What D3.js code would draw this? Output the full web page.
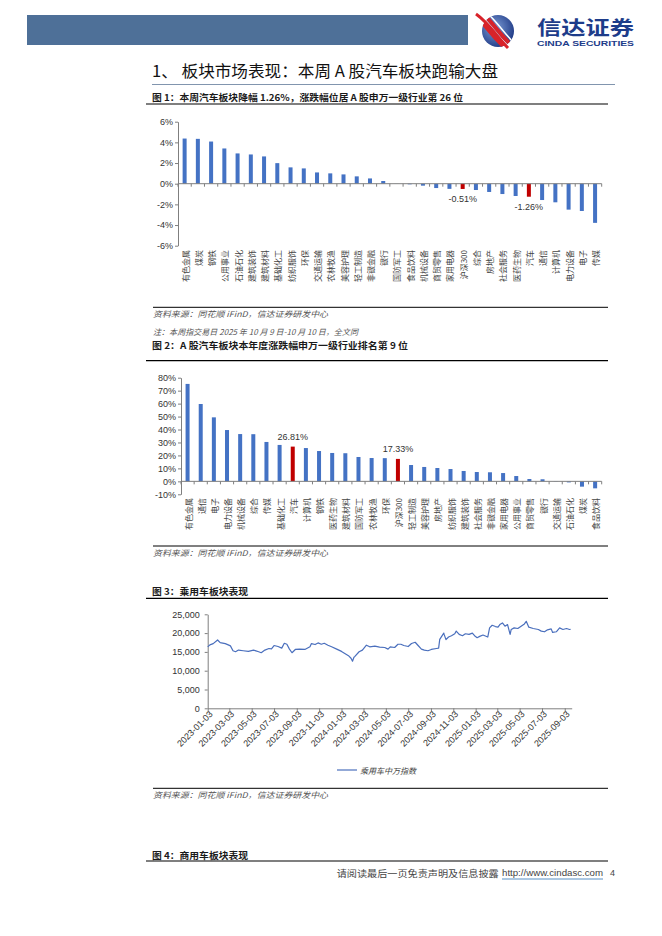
<!DOCTYPE html>
<html><head><meta charset="utf-8">
<script src="https://cdn.jsdelivr.net/npm/d3@7/dist/d3.min.js"></script>
<style>body{margin:0;background:#fff}svg{display:block}</style>
</head><body><svg id="c" width="662" height="936"></svg>
<script>
// ---------- DATA ----------
const cats1 = ["有色金属","煤炭","钢铁","公用事业","石油石化","建筑装饰","建筑材料","基础化工","纺织服饰","环保","交通运输","农林牧渔","美容护理","轻工制造","非银金融","银行","国防军工","食品饮料","机械设备","商贸零售","家用电器","沪深300","综合","房地产","社会服务","医药生物","汽车","通信","计算机","电力设备","电子","传媒"];
const vals1 = [4.37,4.34,4.08,3.41,2.93,2.83,2.64,1.99,1.58,1.48,1.09,1.00,0.90,0.71,0.51,0.26,0.01,-0.06,-0.19,-0.42,-0.50,-0.51,-0.61,-0.80,-1.00,-1.19,-1.26,-1.58,-1.80,-2.51,-2.64,-3.79];
const highlight = ["沪深300","汽车"];
const ticks1 = [-6,-4,-2,0,2,4,6];

const cats2 = ["有色金属","通信","电子","电力设备","机械设备","综合","传媒","基础化工","汽车","计算机","钢铁","医药生物","建筑材料","国防军工","农林牧渔","环保","沪深300","轻工制造","美容护理","房地产","纺织服饰","建筑装饰","社会服务","非银金融","家用电器","公用事业","商贸零售","银行","交通运输","石油石化","煤炭","食品饮料"];
const vals2 = [75.2,59.7,49.4,39.6,36.5,36.4,30.4,28.1,26.81,25.7,23.4,21.9,21.7,18.8,18.0,17.9,17.33,12.6,11.1,10.3,9.5,8.0,7.2,7.0,6.4,4.1,1.8,1.6,-0.2,-0.8,-4.1,-5.4];
const ticks2 = [-10,0,10,20,30,40,50,60,70,80];

const lineDates = ["2023-01-03","2023-01-09","2023-01-18","2023-01-30","2023-02-06","2023-02-20","2023-02-28","2023-03-06","2023-03-13","2023-03-20","2023-03-28","2023-04-10","2023-04-24","2023-05-08","2023-05-22","2023-05-29","2023-06-08","2023-06-19","2023-06-26","2023-07-03","2023-07-14","2023-07-24","2023-07-31","2023-08-07","2023-08-14","2023-08-21","2023-08-30","2023-09-11","2023-09-25","2023-10-09","2023-10-13","2023-10-23","2023-10-31","2023-11-09","2023-11-17","2023-11-27","2023-12-07","2023-12-21","2024-01-03","2024-01-12","2024-01-22","2024-01-29","2024-02-02","2024-02-06","2024-02-08","2024-02-20","2024-02-29","2024-03-11","2024-03-20","2024-04-03","2024-04-16","2024-04-30","2024-05-09","2024-05-15","2024-05-27","2024-06-05","2024-06-13","2024-06-21","2024-07-03","2024-07-12","2024-07-22","2024-07-30","2024-08-08","2024-08-16","2024-08-26","2024-09-04","2024-09-18","2024-09-24","2024-09-27","2024-10-08","2024-10-09","2024-10-14","2024-10-21","2024-10-29","2024-11-07","2024-11-11","2024-11-19","2024-11-28","2024-12-06","2024-12-16","2024-12-25","2024-12-31","2025-01-07","2025-01-14","2025-01-23","2025-02-05","2025-02-10","2025-02-17","2025-02-26","2025-03-05","2025-03-10","2025-03-17","2025-03-24","2025-03-31","2025-04-07","2025-04-10","2025-04-18","2025-04-28","2025-05-07","2025-05-16","2025-05-21","2025-05-28","2025-06-09","2025-06-23","2025-07-01","2025-07-10","2025-07-18","2025-07-28","2025-08-01","2025-08-11","2025-08-20","2025-08-29","2025-09-08","2025-09-16","2025-09-19"];
const lineVals = [16350,16870,17200,18170,17480,17200,16870,16600,15300,15040,15480,15300,15130,15480,15040,14780,15480,15910,15820,16700,16430,16000,17300,17040,15740,14780,15650,15740,15650,16350,17220,16960,17390,17040,17300,16780,16350,15740,15130,14600,13990,13300,12520,13560,13740,15040,15480,16780,16350,16520,16260,16170,15740,16350,16170,17040,17040,16700,16430,17220,17570,16700,15740,15480,15300,15650,15910,16000,18350,20000,19650,18260,18960,19300,19830,20520,19650,19300,19830,19650,20000,19300,18780,19130,19480,18960,21390,22090,21740,21570,22260,22700,21830,22260,19650,20960,21390,21220,21830,22430,23130,21570,21220,20960,20520,20350,20870,21130,20170,20350,21390,20960,21220,20960,21000];
const ticks3 = [0,5000,10000,15000,20000,25000];
const dateTicks = ["2023-01-03","2023-03-03","2023-05-03","2023-07-03","2023-09-03","2023-11-03","2024-01-03","2024-03-03","2024-05-03","2024-07-03","2024-09-03","2024-11-03","2025-01-03","2025-03-03","2025-05-03","2025-07-03","2025-09-03"];
const lineName = "乘用车中万指数";

// ---------- STYLE ----------
const CJK = "'Noto Sans CJK SC','Noto Sans',sans-serif";
const LAT = "'Liberation Sans',Arial,sans-serif";
const BLUE = "#4472C4", RED = "#C00000", AX = "#7f7f7f", TXT = "#333";
const svg = d3.select("#c");
svg.append("rect").attr("width",662).attr("height",936).attr("fill","#fff");

// ---------- HEADER ----------
svg.append("rect").attr("x",27).attr("y",15).attr("width",441).attr("height",30).attr("fill","#4e7098");
const defs = svg.append("defs");
const rg = defs.append("radialGradient").attr("id","lg").attr("cx","40%").attr("cy","40%").attr("r","65%");
rg.append("stop").attr("offset","0%").attr("stop-color","#7e9fd8");
rg.append("stop").attr("offset","100%").attr("stop-color","#1f3a86");
defs.append("clipPath").attr("id","lc").append("circle").attr("cx",498).attr("cy",31).attr("r",16);
svg.append("circle").attr("cx",498).attr("cy",31).attr("r",16).attr("fill","url(#lg)");
const lgG = svg.append("g").attr("clip-path","url(#lc)");
[[-6,"#d8232a",4],[-1,"#ffffff",2],[3,"#d8232a",4],[8,"#ffffff",1.5]].forEach(([o,c,w])=>{
  lgG.append("path").attr("d",`M${478+o},${12} C${492+o},${24} ${498+o},${38} ${516+o},${52}`)
    .attr("fill","none").attr("stroke",c).attr("stroke-width",w);
});
svg.append("path").attr("d","M476,14 C490,24 496,36 508,48").attr("fill","none").attr("stroke","#d8232a").attr("stroke-width",3);
svg.append("text").attr("x",537).attr("y",35).text("信达证券")
  .attr("font-family",CJK).attr("font-weight",700).attr("font-size",19).attr("fill","#1d3c8a")
  .attr("textLength",97).attr("lengthAdjust","spacingAndGlyphs");
svg.append("text").attr("x",537).attr("y",45.5).text("CINDA SECURITIES")
  .attr("font-family",LAT).attr("font-weight",700).attr("font-size",7).attr("fill","#1d3c8a")
  .attr("textLength",97).attr("lengthAdjust","spacingAndGlyphs");

// ---------- TEXT HELPERS ----------
function txt(x,y,s,opt){
  const t = svg.append("text").attr("x",x).attr("y",y).text(s)
    .attr("dominant-baseline","central")
    .attr("font-family",opt.font||CJK).attr("font-size",opt.size||9)
    .attr("fill",opt.fill||TXT);
  if(opt.bold) t.attr("font-weight",700);
  if(opt.italic) t.attr("font-style","italic");
  if(opt.len) t.attr("textLength",opt.len).attr("lengthAdjust","spacingAndGlyphs");
  if(opt.anchor) t.attr("text-anchor",opt.anchor);
  return t;
}
function hline(x1,x2,y,c,w){
  svg.append("line").attr("x1",x1).attr("x2",x2).attr("y1",y).attr("y2",y).attr("stroke",c).attr("stroke-width",w);
}

// heading
txt(152,70,"1、 板块市场表现：本周 A 股汽车板块跑输大盘",{size:16,fill:"#111",len:346});
hline(152,615,84.5,"#8195ae",1);

// figure titles & sources
txt(152,97.7,"图 1：本周汽车板块降幅 1.26%，涨跌幅位居 A 股申万一级行业第 26 位",{size:9,bold:true,fill:"#1a1a1a",len:311});
hline(146,608,104,"#000",1.2);
hline(153,608,307.3,"#000",1);
txt(153,313.5,"资料来源：同花顺 iFinD，信达证券研发中心",{size:8,italic:true,fill:"#555",len:175});
txt(153,331.7,"注：本周指交易日 2025 年 10 月 9 日-10 月 10 日，全文同",{size:8,italic:true,fill:"#555",len:205});
txt(152,345.7,"图 2：A 股汽车板块本年度涨跌幅申万一级行业排名第 9 位",{size:9,bold:true,fill:"#1a1a1a",len:256});
hline(146,608,360.7,"#000",1.2);
hline(153,608,546,"#000",1);
txt(153,552,"资料来源：同花顺 iFinD，信达证券研发中心",{size:8,italic:true,fill:"#555",len:175});
txt(152,591.7,"图 3：乘用车板块表现",{size:9,bold:true,fill:"#1a1a1a",len:96});
hline(146,608,598.3,"#000",1.2);
hline(153,608,788.3,"#000",1);
txt(153,794,"资料来源：同花顺 iFinD，信达证券研发中心",{size:8,italic:true,fill:"#555",len:175});
txt(152,855,"图 4：商用车板块表现",{size:9,bold:true,fill:"#1a1a1a",len:96});
hline(146,608,861,"#000",1.2);
txt(336.7,873.3,"请阅读最后一页免责声明及信息披露",{size:9,fill:"#444",len:162});
txt(502,873.3,"http://www.cindasc.com",{size:9,font:LAT,fill:"#444",len:101});
hline(502,603,879,"#2e75b6",0.8);
txt(610,873.3,"4",{size:9,font:LAT,fill:"#444"});

// ---------- BAR CHART FACTORY ----------
function barChart(cats, vals, ticks, yDom, yRange, xRange, labelTop, labelDy, fmtLbl){
  const x = d3.scaleBand().domain(cats).range(xRange).padding(0);
  const y = d3.scaleLinear().domain(yDom).range(yRange);
  const g = svg.append("g");
  const bw = 4;
  g.selectAll("rect.b").data(cats).join("rect")
    .attr("x",(c)=>x(c)+x.bandwidth()/2-bw/2)
    .attr("width",bw)
    .attr("y",(c,i)=>Math.min(y(vals[i]),y(0)))
    .attr("height",(c,i)=>Math.abs(y(vals[i])-y(0)))
    .attr("fill",c=>highlight.includes(c)?RED:BLUE);
  const ya = g.append("g").attr("transform",`translate(${xRange[0]},0)`)
    .call(d3.axisLeft(y).tickValues(ticks).tickFormat(d=>d+"%").tickSize(3).tickSizeOuter(0));
  ya.select(".domain").attr("stroke",AX);
  ya.selectAll(".tick line").attr("stroke",AX);
  ya.selectAll(".tick text").attr("font-family",LAT).attr("font-size",9).attr("fill",TXT).attr("x",-5);
  g.append("line").attr("x1",xRange[0]).attr("x2",xRange[1]).attr("y1",y(0)).attr("y2",y(0)).attr("stroke",AX);
  const bounds = cats.map(c=>x(c)).concat([xRange[1]]);
  g.selectAll("line.xt").data(bounds).join("line")
    .attr("x1",d=>d).attr("x2",d=>d).attr("y1",y(0)).attr("y2",y(0)+3).attr("stroke",AX);
  g.selectAll("text.cl").data(cats).join("text")
    .attr("transform",c=>`translate(${x(c)+x.bandwidth()/2+0.5},${labelTop}) rotate(-90)`)
    .attr("text-anchor","end").attr("dominant-baseline","central")
    .attr("font-family",CJK).attr("font-size",8).attr("fill","#444")
    .text(c=>c);
  cats.forEach((c,i)=>{
    if(highlight.includes(c)){
      g.append("text").attr("x",x(c)+x.bandwidth()/2).attr("y",y(vals[i])+labelDy)
        .attr("text-anchor","middle").attr("dominant-baseline","central")
        .attr("font-family",LAT).attr("font-size",9).attr("fill",TXT).text(fmtLbl(vals[i]));
    }
  });
}
barChart(cats1, vals1, ticks1, [-6,6], [245.7,121.7], [178,601.7], 250, 10.5, v=>v.toFixed(2)+"%");
barChart(cats2, vals2, ticks2, [-10,80], [494.3,377.7], [181,601.7], 498, -10, v=>v.toFixed(2)+"%");

// ---------- LINE CHART ----------
const parse = d3.timeParse("%Y-%m-%d");
const x3 = d3.scaleTime().domain([parse("2023-01-03"), parse("2025-09-22")]).range([207.7,571.7]);
const y3 = d3.scaleLinear().domain([0,25000]).range([708.3,614.3]);
const g3 = svg.append("g");
const ya3 = g3.append("g").attr("transform","translate(207.7,0)")
  .call(d3.axisLeft(y3).tickValues(ticks3).tickFormat(d3.format(",")).tickSize(3).tickSizeOuter(0));
ya3.select(".domain").attr("stroke",AX);
ya3.selectAll(".tick line").attr("stroke",AX);
ya3.selectAll(".tick text").attr("font-family",LAT).attr("font-size",9).attr("fill",TXT).attr("x",-8);
const xa3 = g3.append("g").attr("transform","translate(0,708.3)")
  .call(d3.axisBottom(x3).tickValues(dateTicks.map(parse)).tickFormat(d3.timeFormat("%Y-%m-%d")).tickSize(3).tickSizeOuter(0));
xa3.select(".domain").attr("stroke",AX);
xa3.selectAll(".tick line").attr("stroke",AX);
xa3.selectAll(".tick text").attr("font-family",LAT).attr("font-size",9).attr("fill",TXT)
  .attr("x",-1).attr("y",5).attr("dy","0.35em").attr("transform","rotate(-45)").style("text-anchor","end");
const pts = lineDates.map((d,i)=>[parse(d), lineVals[i]]);
g3.append("path").datum(pts)
  .attr("d", d3.line().x(d=>x3(d[0])).y(d=>y3(d[1])))
  .attr("fill","none").attr("stroke","#4a6fbd").attr("stroke-width",1.2).attr("stroke-linejoin","round");
g3.append("line").attr("x1",337).attr("x2",357).attr("y1",770).attr("y2",770).attr("stroke","#4a6fbd").attr("stroke-width",1.2);
g3.append("text").attr("x",360).attr("y",770).attr("dominant-baseline","central")
  .attr("font-family",CJK).attr("font-size",8).attr("font-style","italic").attr("fill","#444").text(lineName);
</script></body></html>
